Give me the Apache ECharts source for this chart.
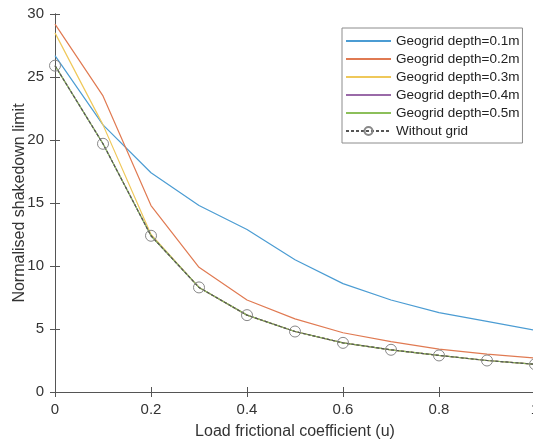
<!DOCTYPE html>
<html>
<head>
<meta charset="utf-8">
<script src="https://cdn.jsdelivr.net/npm/echarts@6/dist/echarts.min.js"></script>
<style>
  html, body { margin: 0; padding: 0; background: #fff; }
  #main { width: 533px; height: 445px; }
</style>
</head>
<body>
<div id="main"></div>
<script>
// friction coefficient on x
const xVals = [0, 0.1, 0.2, 0.3, 0.4, 0.5, 0.6, 0.7, 0.8, 0.9, 1.0];

const depth01 = [26.7, 21.2, 17.4, 14.8, 12.9, 10.5, 8.6, 7.3, 6.3, 5.6, 4.9];
const depth02 = [29.2, 23.5, 14.8, 9.9, 7.3, 5.8, 4.7, 4.0, 3.4, 3.0, 2.7];
const depth03 = [28.5, 21.2, 12.5, 8.3, 6.1, 4.8, 3.9, 3.35, 2.9, 2.5, 2.2];
const depth04 = [25.9, 19.7, 12.4, 8.3, 6.1, 4.8, 3.9, 3.35, 2.9, 2.5, 2.2];
const depth05 = [25.9, 19.7, 12.4, 8.3, 6.1, 4.8, 3.9, 3.35, 2.9, 2.5, 2.2];
const noGrid  = [25.9, 19.7, 12.4, 8.3, 6.1, 4.8, 3.9, 3.35, 2.9, 2.5, 2.2];

const names = ['Geogrid depth=0.1m', 'Geogrid depth=0.2m', 'Geogrid depth=0.3m',
  'Geogrid depth=0.4m', 'Geogrid depth=0.5m', 'Without grid'];
const colors = ['#4b9cd3', '#e07a52', '#efc85a', '#9a6aa8', '#8cbf5a', '#555555'];

const pair = arr => arr.map((v, i) => [xVals[i], v]);

const font = 'Liberation Sans, Arial, sans-serif';

function solidLine(name, data, color) {
  return {
    name: name,
    type: 'line',
    data: pair(data),
    symbol: 'none',
    lineStyle: { color: color, width: 1.2 },
    itemStyle: { color: color },
    animation: false
  };
}

// legend entries: plain lines except the last one
let legendData = names.map((n, i) => i < 5 ? { name: n, itemStyle: { opacity: 0 } } : { name: n });

let chart = echarts.init(document.getElementById('main'));
let option = {
  backgroundColor: '#fff',
  textStyle: { fontFamily: font },
  grid: { left: 55, right: -2, top: 14, bottom: 53, outerBoundsMode: 'none' },
  legend: {
    orient: 'vertical',
    left: 342,
    top: 28,
    backgroundColor: '#fff',
    borderColor: '#8c8c8c',
    borderWidth: 1,
    padding: [6, 3, 5, 3],
    itemGap: 4,
    itemWidth: 45,
    itemHeight: 10,
    textStyle: { fontSize: 13.5, color: '#222', fontFamily: font },
    data: legendData
  },
  xAxis: [{
    type: 'value',
    min: 0, max: 1, interval: 0.2,
    name: 'Load frictional coefficient (u)',
    nameLocation: 'middle',
    nameGap: 32,
    nameMoveOverlap: false,
    nameTextStyle: { fontSize: 16, color: '#333', fontFamily: font },
    axisLine: { lineStyle: { color: '#555', width: 1 } },
    axisTick: { inside: true, length: 5, lineStyle: { color: '#555' } },
    axisLabel: { fontSize: 15, color: '#333', margin: 10, fontFamily: font,
      formatter: v => String(+v.toFixed(1)) },
    splitLine: { show: false }
  }, {
    type: 'value', position: 'top',
    min: 0, max: 1, interval: 0.2,
    axisLine: { show: true, lineStyle: { color: '#555', width: 1 } },
    axisTick: { inside: true, length: 5, lineStyle: { color: '#555' } },
    axisLabel: { show: false },
    splitLine: { show: false }
  }],
  yAxis: [{
    type: 'value',
    min: 0, max: 30, interval: 5,
    name: 'Normalised shakedown limit',
    nameLocation: 'middle',
    nameGap: 27,
    nameMoveOverlap: false,
    nameTextStyle: { fontSize: 16, color: '#333', fontFamily: font },
    axisLine: { show: true, lineStyle: { color: '#555', width: 1 } },
    axisTick: { show: true, inside: true, length: 5, lineStyle: { color: '#555' } },
    axisLabel: { fontSize: 15, color: '#333', margin: 11, fontFamily: font },
    splitLine: { show: false }
  }, {
    type: 'value', position: 'right',
    min: 0, max: 30, interval: 5,
    axisLine: { show: true, lineStyle: { color: '#555', width: 1 } },
    axisTick: { show: true, inside: true, length: 5, lineStyle: { color: '#555' } },
    axisLabel: { show: false },
    splitLine: { show: false }
  }],
  series: [
    solidLine(names[0], depth01, colors[0]),
    solidLine(names[1], depth02, colors[1]),
    solidLine(names[2], depth03, colors[2]),
    solidLine(names[3], depth04, colors[3]),
    solidLine(names[4], depth05, colors[4]),
    {
      name: names[5],
      type: 'line',
      data: pair(noGrid),
      symbol: 'circle',
      symbolSize: 11,
      showSymbol: true,
      lineStyle: { color: colors[5], width: 1.2, type: [3, 2] },
      itemStyle: { color: 'rgba(255,255,255,0)', borderColor: '#888', borderWidth: 1 },
      animation: false
    }
  ]
};
chart.setOption(option);
</script>
</body>
</html>
